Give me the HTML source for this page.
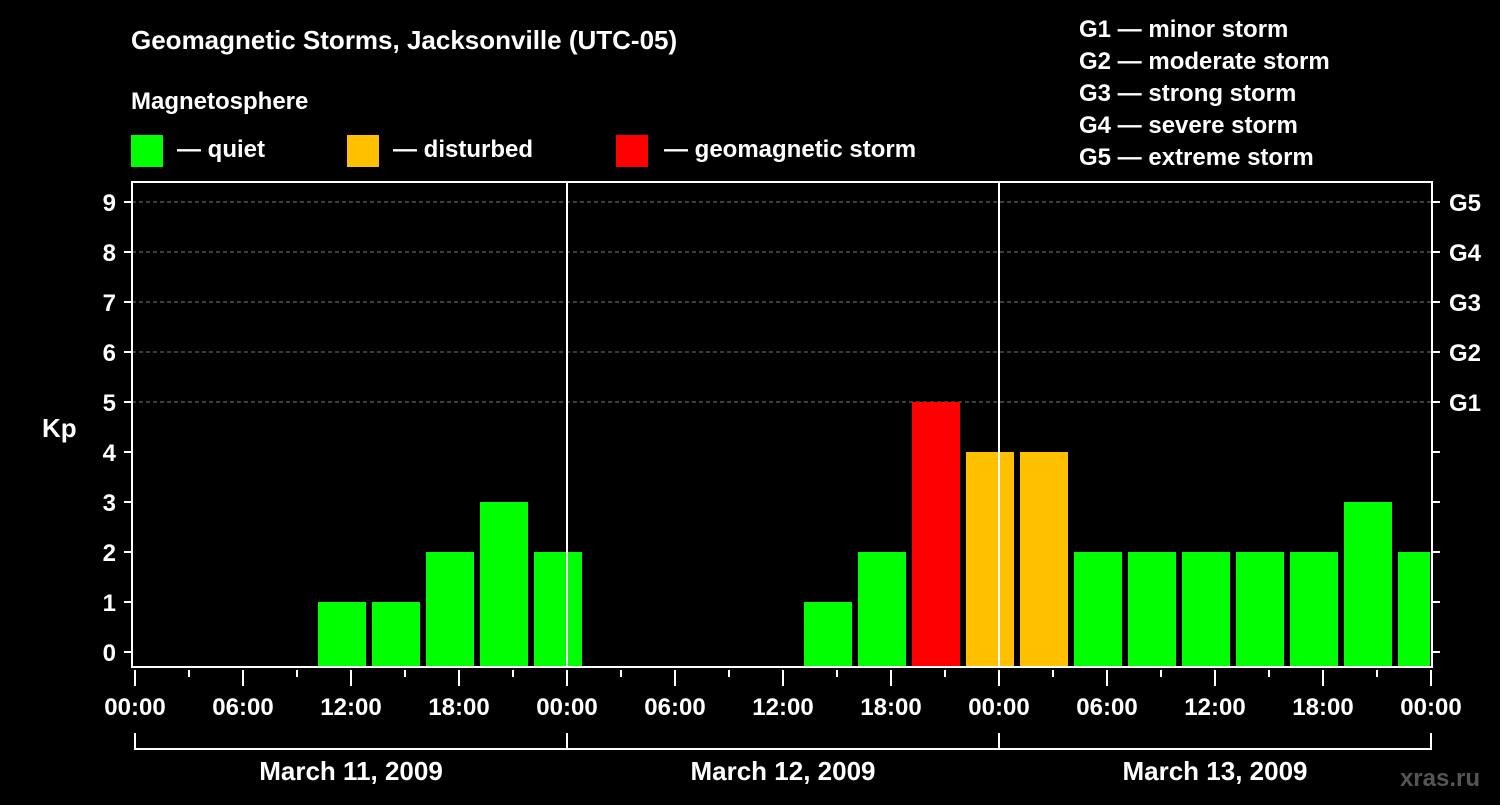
<!DOCTYPE html>
<html><head><meta charset="utf-8"><style>
body{margin:0;background:#000;width:1500px;height:800px;overflow:hidden}
svg text{font-family:"Liberation Sans",Arial,sans-serif;font-weight:bold;fill:#fff}
</style></head><body>
<svg id="c" width="1500" height="800">
<text x="131" y="49" font-size="26">Geomagnetic Storms, Jacksonville (UTC-05)</text>
<text x="131" y="109" font-size="24">Magnetosphere</text>
<rect x="131" y="135" width="32" height="32" fill="#00ff00"/>
<text x="177" y="157" font-size="24">— quiet</text>
<rect x="347" y="135" width="32" height="32" fill="#ffc000"/>
<text x="393" y="157" font-size="24">— disturbed</text>
<rect x="616" y="135" width="32" height="32" fill="#ff0000"/>
<text x="664" y="157" font-size="24">— geomagnetic storm</text>
<g font-size="24">
<text x="1079" y="37">G1 — minor storm</text>
<text x="1079" y="69">G2 — moderate storm</text>
<text x="1079" y="101">G3 — strong storm</text>
<text x="1079" y="133">G4 — severe storm</text>
<text x="1079" y="165">G5 — extreme storm</text>
</g>
<text x="42" y="437" font-size="26">Kp</text>
<text x="1480" y="786" font-size="24" fill="#555" style="fill:#555" text-anchor="end">xras.ru</text>
<g id="grid"></g><g id="bars"></g><g id="axes"></g>
</svg>
<script>
const kpValues=[0,0,0,0,1,1,2,3,2, 0,0,0,0,1,2,5,4,4,2,2,2,2,2,3,2];
const startHour=-2;
const yTicks=[0,1,2,3,4,5,6,7,8,9];
const gLabels=["","","","","","G1","G2","G3","G4","G5"];
const xTickLabels=["00:00","06:00","12:00","18:00","00:00","06:00","12:00","18:00","00:00","06:00","12:00","18:00","00:00"];
const dayLabels=["March 11, 2009","March 12, 2009","March 13, 2009"];
const NS="http://www.w3.org/2000/svg";
const X0=135,PXH=18,L=132,R=1432,T=182,B=667;
const x=h=>X0+h*PXH, y=v=>652-50*v;
function mk(tag,attrs,parent){const e=document.createElementNS(NS,tag);for(const k in attrs)e.setAttribute(k,attrs[k]);parent.appendChild(e);return e;}
const grid=document.getElementById('grid'),bars=document.getElementById('bars'),axes=document.getElementById('axes');
yTicks.forEach(v=>{
 if(v>=5){const l=mk('line',{x1:L,x2:R,y1:y(v),y2:y(v),stroke:'#777','stroke-dasharray':'4,3'},grid);
 
 }
 const t=mk('text',{x:116,y:y(v)+9,'font-size':24,'text-anchor':'end'},axes);t.textContent=v;
 
 
 mk('line',{x1:L-8,x2:L,y1:y(v),y2:y(v),stroke:'#fff','stroke-width':2},axes);
 mk('line',{x1:R,x2:R+8,y1:y(v),y2:y(v),stroke:'#fff','stroke-width':2},axes);
 if(gLabels[v]){const g=mk('text',{x:1449,y:y(v)+9,'font-size':24},axes);g.textContent=gLabels[v];
 
 }
});
kpValues.forEach((v,i)=>{
 if(v<=0)return;
 const h0=startHour+i*3, xa=Math.max(x(h0)+3,L), xb=Math.min(x(h0+3)-3,R-2);
 const col=v>=5?'#ff0000':v>=4?'#ffc000':'#00ff00';
 const r=mk('rect',{x:xa,y:y(v),width:xb-xa,height:B-y(v),fill:col},bars);
 
 
});
[1,2].forEach(d=>mk('line',{x1:x(24*d),x2:x(24*d),y1:T,y2:B,stroke:'#fff','stroke-width':2},axes));
mk('rect',{x:L,y:T,width:R-L,height:B-T,fill:'none',stroke:'#fff','stroke-width':2},axes);
for(let h=0;h<=72;h+=3){mk('line',{x1:x(h),x2:x(h),y1:670,y2:h%6==0?686:677,stroke:'#fff','stroke-width':2},axes);}
xTickLabels.forEach((s,i)=>{const t=mk('text',{x:x(i*6),y:715,'font-size':24,'text-anchor':'middle'},axes);t.textContent=s;
 
 });
dayLabels.forEach((s,d)=>{
 mk('path',{d:`M${x(d*24)},733V749H${x(d*24+24)}V733`,stroke:'#fff','stroke-width':2,fill:'none'},axes);
 const t=mk('text',{x:x(d*24+12),y:780,'font-size':26,'text-anchor':'middle'},axes);t.textContent=s;
 
 
});
</script>
</body></html>
